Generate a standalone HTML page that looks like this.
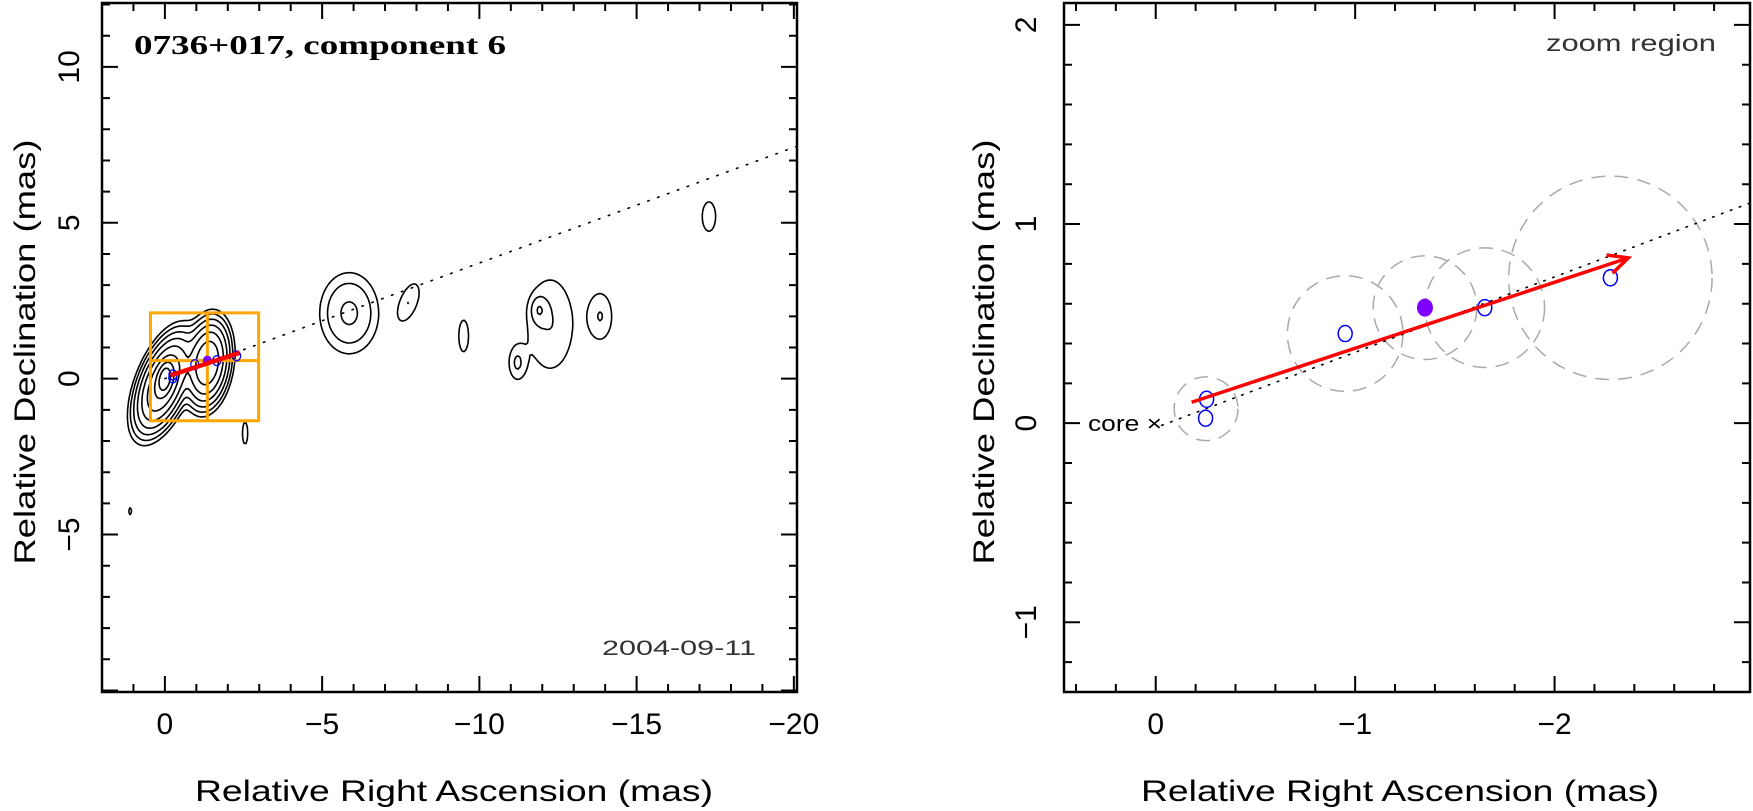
<!DOCTYPE html>
<html><head><meta charset="utf-8">
<style>
html,body{margin:0;padding:0;background:#fff;}
svg{display:block;font-family:"Liberation Sans",sans-serif;}
</style></head>
<body>
<svg id="fig" width="1753" height="811" viewBox="0 0 1753 811" xmlns="http://www.w3.org/2000/svg">
<rect x="0" y="0" width="1753" height="811" fill="#fff"/>
<g id="left"></g>
<g id="right"></g>
</svg>
<script>
// ---- data ----
// Gaussian brightness components: RA, Dec, amplitude, sigmaRA, sigmaDec, skew
const blobRA   = [0.05, 0.0, -1.35, -5.86, -7.75, -9.5, -12.25, -11.9, -11.2, -13.85, -17.3, -2.55, 1.1];
const blobDec  = [-0.15, 0.0, 0.5, 2.1, 2.45, 1.37, 1.75, 2.2, 0.5, 2.0, 5.2, -1.75, -4.25];
const blobAmp  = [0.3, 0.7, 0.25, 0.018, 0.008, 0.008, 0.008, 0.011, 0.008, 0.008, 0.008, 0.008, 0.0075];
const blobSRA  = [0.33, 0.12, 0.3, 0.54, 0.24, 0.13, 0.6, 0.16, 0.2, 0.3, 0.18, 0.07, 0.04];
const blobSDec = [0.68, 0.25, 0.6, 0.75, 0.5, 0.43, 1.2, 0.26, 0.4, 0.6, 0.4, 0.3, 0.1];
const blobSkew = [0.3, 0.15, 0.1, 0, 0.3, 0, 0, 0, 0, 0, 0, 0, 0];
const contourLevels = [0.004, 0.008, 0.016, 0.032, 0.064, 0.128, 0.256, 0.512];
// Component positions (RA mas, Dec mas)
const compRA  = [-0.25, -0.255, -0.95, -1.65, -2.28];
const compDec = [0.025, 0.12, 0.45, 0.58, 0.73];
const compSize = [0.16, 0.16, 0.29, 0.30, 0.51];
const selRA = -1.35, selDec = 0.58, selSize = 0.26;
const arrowStart = [-0.18, 0.105];
const arrowEnd = [-2.37, 0.83];
const jetSlope = 0.371;
const leftXTicks = [0, -5, -10, -15, -20];
const leftYTicks = [10, 5, 0, -5];
const rightXTicks = [0, -1, -2];
const rightYTicks = [2, 1, 0, -1];
const zoomBox = [0.46, -2.98, -1.35, 2.11];

const NS = "http://www.w3.org/2000/svg";
function el(parent, tag, attrs, text){
  const e = document.createElementNS(NS, tag);
  for (const k in attrs) e.setAttribute(k, attrs[k]);
  if (text !== undefined) e.textContent = text;
  parent.appendChild(e);
  return e;
}
function fmt(v){ return v < 0 ? "\u2212" + Math.abs(v) : String(v); }

// ---- panel geometry ----
const L = {x0:102, x1:797, y0:3, y1:692, ra0:2.0, ra1:-20.1, d0:12.05, d1:-10.05};
const R = {x0:1064, x1:1750, y0:3, y1:692, ra0:0.46, ra1:-2.98, d0:2.11, d1:-1.35};
function mkX(P){ return ra => P.x0 + (P.ra0 - ra) / (P.ra0 - P.ra1) * (P.x1 - P.x0); }
function mkY(P){ return d => P.y0 + (P.d0 - d) / (P.d0 - P.d1) * (P.y1 - P.y0); }
const LX = mkX(L), LY = mkY(L), RX = mkX(R), RY = mkY(R);

function frameAndTicks(g, P, X, Y, minorStep, majorStep, xt, yt, ytx, nameP){
  const fr = el(g, "rect", {x:P.x0, y:P.y0, width:P.x1-P.x0, height:P.y1-P.y0, fill:"none", stroke:"#000", "stroke-width":2.5});
  
  
  let d = "";
  const lo = Math.min(P.ra0,P.ra1), hi = Math.max(P.ra0,P.ra1);
  for (let i = Math.ceil(lo/minorStep-1e-6); i*minorStep <= hi+1e-6; i++){
    const v = i*minorStep, x = X(v);
    const major = Math.abs(v/majorStep - Math.round(v/majorStep)) < 1e-6;
    const len = major ? 16 : 8;
    d += `M${x} ${P.y1}V${P.y1-len}M${x} ${P.y0}V${P.y0+len}`;
  }
  const dlo = Math.min(P.d0,P.d1), dhi = Math.max(P.d0,P.d1);
  for (let i = Math.ceil(dlo/minorStep-1e-6); i*minorStep <= dhi+1e-6; i++){
    const v = i*minorStep, y = Y(v);
    const major = Math.abs(v/majorStep - Math.round(v/majorStep)) < 1e-6;
    const len = major ? 16 : 8;
    d += `M${P.x0} ${y}H${P.x0+len}M${P.x1} ${y}H${P.x1-len}`;
  }
  const tk = el(g, "path", {d:d, stroke:"#000", "stroke-width":2, fill:"none"});
  
  
  xt.forEach(v => {
    const t = el(g, "text", {x:X(v), y:734, "font-size":30, "text-anchor":"middle", fill:"#000"}, fmt(v));
    
    
  });
  yt.forEach(v => {
    const y = Y(v);
    const t = el(g, "text", {x:0, y:0, "font-size":30, "text-anchor":"middle", fill:"#000",
      transform:`translate(${ytx},${y}) rotate(-90)`, dy:"0.36em"}, fmt(v));
    
    
  });
}

// ---- LEFT PANEL ----
const gl = document.getElementById("left");
const clipL = el(gl, "clipPath", {id:"clipL"});
el(clipL, "rect", {x:L.x0, y:L.y0, width:L.x1-L.x0, height:L.y1-L.y0});
const plotL = el(gl, "g", {"clip-path":"url(#clipL)"});



function field(ra, dec){
  let s = 0;
  for (let k = 0; k < blobRA.length; k++){
    const dy = dec - blobDec[k];
    const dx = ra - blobRA[k] + blobSkew[k]*dy;
    const a = dx/blobSRA[k], b = dy/blobSDec[k];
    const q = a*a + b*b;
    if (q < 60) s += blobAmp[k]*Math.exp(-0.5*q);
  }
  return s;
}
const step = 2;
const nx = Math.floor((L.x1-L.x0)/step)+1, ny = Math.floor((L.y1-L.y0)/step)+1;
const F = new Float32Array(nx*ny);
const raPerPx = (L.ra0-L.ra1)/(L.x1-L.x0), decPerPx = (L.d0-L.d1)/(L.y1-L.y0);
for (let j = 0; j < ny; j++) for (let i = 0; i < nx; i++){
  F[j*nx+i] = field(L.ra0 - i*step*raPerPx, L.d0 - j*step*decPerPx);
}
contourLevels.forEach((lev, li) => {
  let d = "";
  const P = (x,y) => (L.x0+x*step).toFixed(1)+" "+(L.y0+y*step).toFixed(1);
  for (let j = 0; j < ny-1; j++) for (let i = 0; i < nx-1; i++){
    const a = F[j*nx+i], b = F[j*nx+i+1], c = F[(j+1)*nx+i+1], e = F[(j+1)*nx+i];
    const idx = (a>lev?8:0)|(b>lev?4:0)|(c>lev?2:0)|(e>lev?1:0);
    if (idx === 0 || idx === 15) continue;
    const top = P(i+(lev-a)/(b-a), j);
    const right = P(i+1, j+(lev-b)/(c-b));
    const bottom = P(i+(lev-e)/(c-e), j+1);
    const left = P(i, j+(lev-a)/(e-a));
    const seg = (p,q) => { d += "M"+p+"L"+q; };
    switch(idx){
      case 1: case 14: seg(left,bottom); break;
      case 2: case 13: seg(bottom,right); break;
      case 3: case 12: seg(left,right); break;
      case 4: case 11: seg(top,right); break;
      case 5: seg(left,top); seg(bottom,right); break;
      case 6: case 9: seg(top,bottom); break;
      case 7: case 8: seg(left,top); break;
      case 10: seg(top,right); seg(left,bottom); break;
    }
  }
  const p = el(plotL, "path", {d:d, stroke:"#000", "stroke-width":1.6, fill:"none", "stroke-linecap":"round"});
  
  
});
// dotted jet line
const jl = el(plotL, "line", {x1:LX(0), y1:LY(0), x2:LX(L.ra1), y2:LY(jetSlope*(-L.ra1)), stroke:"#000", "stroke-width":1.6, "stroke-dasharray":"1.5 9", "stroke-linecap":"round"});


// zoom box
const zb = el(plotL, "path", {d:`M${LX(zoomBox[0])} ${LY(zoomBox[2])}H${LX(zoomBox[1])}V${LY(zoomBox[3])}H${LX(zoomBox[0])}Z M${LX(selRA)} ${LY(zoomBox[2])}V${LY(zoomBox[3])} M${LX(zoomBox[0])} ${LY(selDec)}H${LX(zoomBox[1])}`, stroke:"#ffa500", "stroke-width":3, fill:"none"});


compRA.forEach((r,i) => {
  const c = el(plotL, "ellipse", {cx:LX(r), cy:LY(compDec[i]), rx:4, ry:5, fill:"none", stroke:"#0000ff", "stroke-width":1.3});
  
  
});
const sl = el(plotL, "ellipse", {cx:LX(selRA), cy:LY(selDec), rx:4.5, ry:5, fill:"#8000ff"});


const al = el(plotL, "line", {x1:LX(arrowStart[0]), y1:LY(arrowStart[1]), x2:LX(arrowEnd[0]), y2:LY(arrowEnd[1]), stroke:"#ff0000", "stroke-width":4.5});



frameAndTicks(gl, L, LX, LY, 1, 5, leftXTicks, leftYTicks, 68, 'left');
const t1 = el(gl, "text", {x:134, y:54, "font-size":27, "font-weight":"bold", "font-family":"Liberation Serif, serif", textLength:372, lengthAdjust:"spacingAndGlyphs", fill:"#000"}, "0736+017, component 6");


const t2 = el(gl, "text", {x:602, y:655, "font-size":21, textLength:154, lengthAdjust:"spacingAndGlyphs", fill:"#333"}, "2004-09-11");


const xl1 = el(gl, "text", {x:195, y:801, "font-size":30, textLength:518, lengthAdjust:"spacingAndGlyphs", fill:"#000"}, "Relative Right Ascension (mas)");


const yl1 = el(gl, "text", {x:0, y:0, "font-size":30, "text-anchor":"middle", textLength:425, lengthAdjust:"spacingAndGlyphs", transform:"translate(35,352) rotate(-90)", fill:"#000"}, "Relative Declination (mas)");



// ---- RIGHT PANEL ----
const gr = document.getElementById("right");
const clipR = el(gr, "clipPath", {id:"clipR"});
el(clipR, "rect", {x:R.x0, y:R.y0, width:R.x1-R.x0, height:R.y1-R.y0});
const plotR = el(gr, "g", {"clip-path":"url(#clipR)"});


const sc = (R.x1-R.x0)/(R.ra0-R.ra1);
[[ (compRA[0]+compRA[1])/2, (compDec[0]+compDec[1])/2, compSize[0] ],
 [compRA[2], compDec[2], compSize[2]],
 [selRA, selDec, selSize],
 [compRA[3], compDec[3], compSize[3]],
 [compRA[4], compDec[4], compSize[4]]].forEach(c => {
  const e = el(plotR, "ellipse", {cx:RX(c[0]), cy:RY(c[1]), rx:c[2]*sc, ry:c[2]*sc, fill:"none", stroke:"#aaa", "stroke-width":1.5, "stroke-dasharray":"14 9"});
  
  
});
const jr = el(plotR, "line", {x1:RX(-0.03), y1:RY(-0.03*jetSlope), x2:RX(R.ra1), y2:RY(-R.ra1*jetSlope), stroke:"#000", "stroke-width":1.6, "stroke-dasharray":"1.5 8", "stroke-linecap":"round"});


compRA.forEach((r,i) => {
  const c = el(plotR, "ellipse", {cx:RX(r), cy:RY(compDec[i]), rx:7, ry:8, fill:"none", stroke:"#0000ff", "stroke-width":1.5});
  
  
});
const sr = el(plotR, "ellipse", {cx:RX(selRA), cy:RY(selDec), rx:8, ry:9, fill:"#8000ff"});


{
  const x1 = RX(arrowStart[0]), y1 = RY(arrowStart[1]), x2 = RX(arrowEnd[0]), y2 = RY(arrowEnd[1]);
  const ang = Math.atan2(y2-y1, x2-x1);
  const hl = 22, hw = 0.45;
  const ar = el(plotR, "path", {d:`M${x1} ${y1}L${x2} ${y2}M${x2-hl*Math.cos(ang-hw)} ${y2-hl*Math.sin(ang-hw)}L${x2} ${y2}L${x2-hl*Math.cos(ang+hw)} ${y2-hl*Math.sin(ang+hw)}`, stroke:"#ff0000", "stroke-width":3.5, fill:"none"});
  
  
}
const cl = el(gr, "text", {x:1088, y:431, "font-size":22, textLength:74, lengthAdjust:"spacingAndGlyphs", fill:"#000"}, "core \u00d7");


frameAndTicks(gr, R, RX, RY, 0.2, 1, rightXTicks, rightYTicks, 1025, 'right');
const zr = el(gr, "text", {x:1546, y:51, "font-size":23, textLength:170, lengthAdjust:"spacingAndGlyphs", fill:"#333"}, "zoom region");


const xl2 = el(gr, "text", {x:1400, y:801, "font-size":30, "text-anchor":"middle", textLength:518, lengthAdjust:"spacingAndGlyphs", fill:"#000"}, "Relative Right Ascension (mas)");


const yl2 = el(gr, "text", {x:0, y:0, "font-size":30, "text-anchor":"middle", textLength:425, lengthAdjust:"spacingAndGlyphs", transform:"translate(994,352) rotate(-90)", fill:"#000"}, "Relative Declination (mas)");


</script>
</body></html>
